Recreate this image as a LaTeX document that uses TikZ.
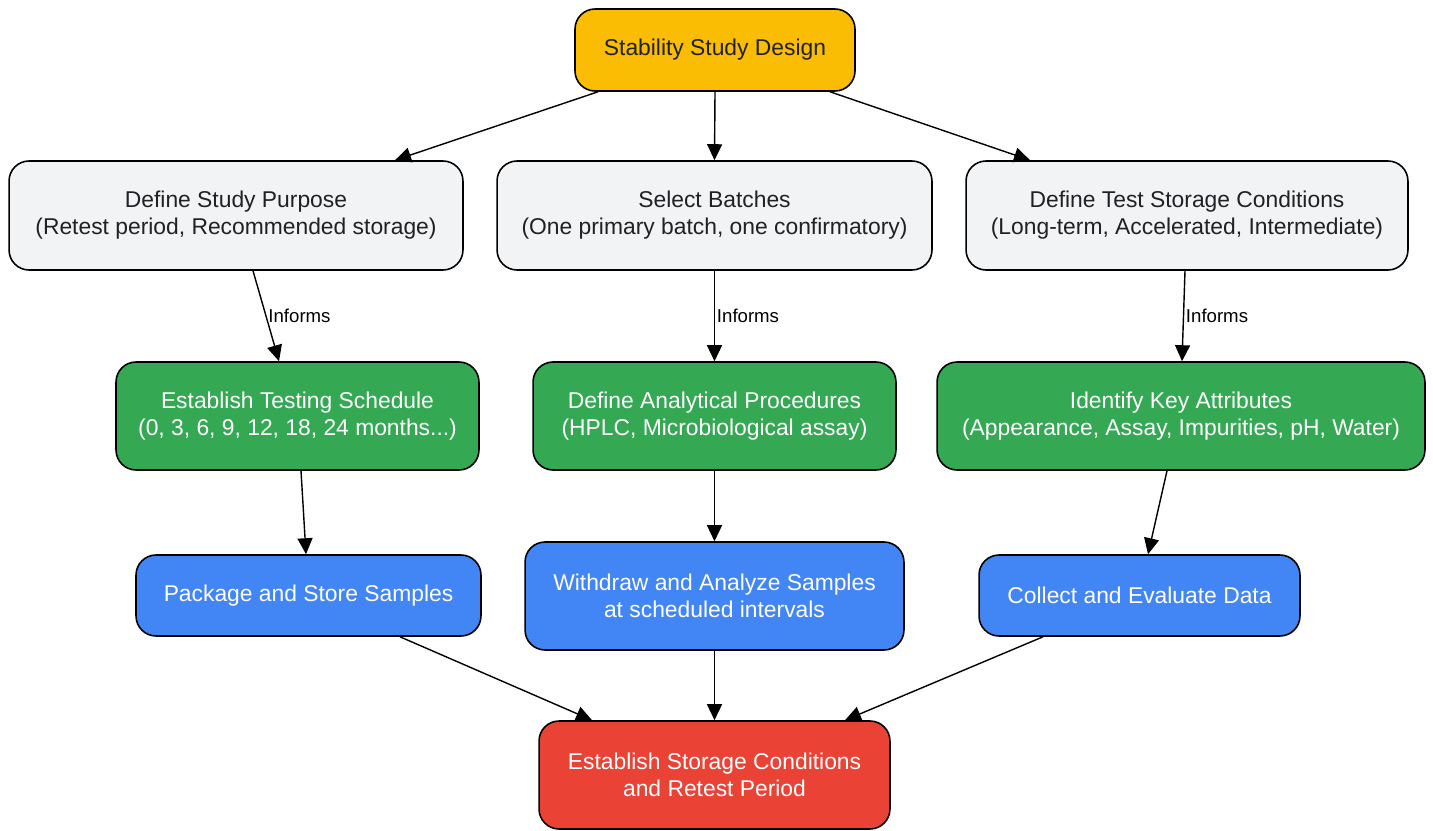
\documentclass[tikz,border=0pt]{standalone}
\usepackage{fontspec}
\setmainfont{Liberation Sans}
\usepackage{xcolor}
\usetikzlibrary{positioning, arrows.meta}

\definecolor{studyyellow}{HTML}{FBBC04}
\definecolor{stepgray}{HTML}{F1F3F4}
\definecolor{stepgreen}{HTML}{34A853}
\definecolor{stepblue}{HTML}{4285F4}
\definecolor{stepred}{HTML}{EA4335}
\definecolor{inktext}{HTML}{202124}

\begin{document}
\begin{tikzpicture}[x=0.02cm, y=-0.02cm,
    box/.style={draw, rounded corners=0.4cm, line width=0.9pt, align=center,
        inner sep=0pt, font=\fontsize{13}{15.4}\selectfont},
    graybox/.style={box, fill=stepgray, text=inktext, minimum height=2.18cm},
    greenbox/.style={box, fill=stepgreen, text=white, minimum height=2.16cm},
    bluebox/.style={box, fill=stepblue, text=white},
    flow/.style={-{Triangle[length=0.32cm, width=0.3cm]}, line width=0.8pt},
    informs/.style={right, inner sep=1pt, font=\fontsize{10.6}{12}\selectfont}]
    \useasboundingbox (0, 0) rectangle (1433, 831);

    \node[box, fill=studyyellow, text=inktext, minimum width=5.6cm, minimum height=1.64cm] (design) at (715, 50) {Stability Study Design};

    \node[graybox, minimum width=9.08cm] (purpose) at (236, 215.5) {Define Study Purpose\\(Retest period, Recommended storage)};
    \node[graybox, minimum width=8.7cm] (batches) at (714.5, 215.5) {Select Batches\\(One primary batch, one confirmatory)};
    \node[graybox, minimum width=8.84cm] (conditions) at (1187, 215.5) {Define Test Storage Conditions\\(Long-term, Accelerated, Intermediate)};

    \node[greenbox, minimum width=7.26cm] (schedule) at (297.5, 416) {Establish Testing Schedule\\(0, 3, 6, 9, 12, 18, 24 months...)};
    \node[greenbox, minimum width=7.26cm] (procedures) at (714.5, 416) {Define Analytical Procedures\\(HPLC, Microbiological assay)};
    \node[greenbox, minimum width=9.76cm] (attributes) at (1181, 416) {Identify Key Attributes\\(Appearance, Assay, Impurities, pH, Water)};

    \node[bluebox, minimum width=6.9cm, minimum height=1.62cm] (package) at (308.5, 595.5) {Package and Store Samples};
    \node[bluebox, minimum width=7.58cm, minimum height=2.16cm] (withdraw) at (714.5, 596) {Withdraw and Analyze Samples\\at scheduled intervals};
    \node[bluebox, minimum width=6.42cm, minimum height=1.62cm] (collect) at (1139.5, 595.5) {Collect and Evaluate Data};

    \node[box, fill=stepred, text=white, minimum width=7.02cm, minimum height=2.16cm] (result) at (714.5, 775) {Establish Storage Conditions\\and Retest Period};

    % design to the three planning steps
    \draw[flow] ([xshift=-2.34cm]design.south) -- ([xshift=3.18cm]purpose.north);
    \draw[flow] (design.south) -- (batches.north);
    \draw[flow] ([xshift=2.3cm]design.south) -- ([xshift=-3.14cm]conditions.north);

    % planning informs the methods
    \draw[flow] ([xshift=0.34cm]purpose.south) -- node[informs] {Informs} ([xshift=-0.37cm]schedule.north);
    \draw[flow] (batches.south) -- node[informs] {Informs} (procedures.north);
    \draw[flow] ([xshift=-0.04cm]conditions.south) -- node[informs] {Informs} ([xshift=0.02cm]attributes.north);

    \draw[flow] ([xshift=0.07cm]schedule.south) -- ([xshift=-0.05cm]package.north);
    \draw[flow] (procedures.south) -- (withdraw.north);
    \draw[flow] ([xshift=-0.28cm]attributes.south) -- ([xshift=0.17cm]collect.north);

    % everything ends in the result
    \draw[flow] ([xshift=1.83cm]package.south) -- ([xshift=-2.45cm]result.north);
    \draw[flow] (withdraw.south) -- (result.north);
    \draw[flow] ([xshift=-1.93cm]collect.south) -- ([xshift=2.61cm]result.north);
\end{tikzpicture}
\end{document}
